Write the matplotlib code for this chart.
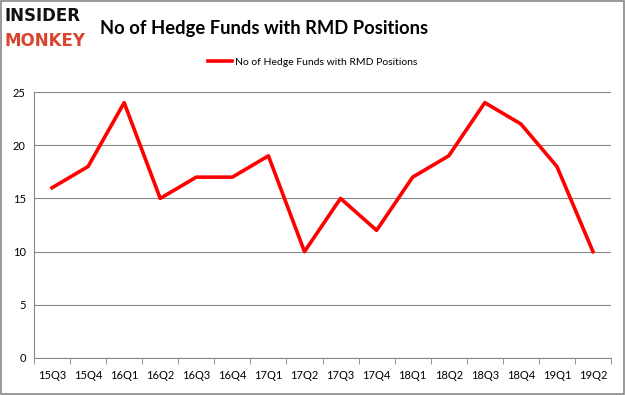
import matplotlib
matplotlib.use('Agg')
import matplotlib.pyplot as plt
from matplotlib.patches import Rectangle

quarters = ['15Q3', '15Q4', '16Q1', '16Q2', '16Q3', '16Q4', '17Q1', '17Q2',
            '17Q3', '17Q4', '18Q1', '18Q2', '18Q3', '18Q4', '19Q1', '19Q2']
funds = [16, 18, 24, 15, 17, 17, 19, 10, 15, 12, 17, 19, 24, 22, 18, 10]
series_name = 'No of Hedge Funds with RMD Positions'
yticks = [0, 5, 10, 15, 20, 25]

plt.rcParams['font.family'] = ['Lato', 'DejaVu Sans']

fig = plt.figure(figsize=(6.25, 3.95), dpi=100)
fig.patches.append(Rectangle((0.0015, 0.002), 0.997, 0.995, transform=fig.transFigure,
                             fill=False, edgecolor='#888888', linewidth=1.2))

ax = fig.add_axes([0.0544, 0.0937, 0.9232, 0.6733])
x = list(range(len(quarters)))
line, = ax.plot(x, funds, color='#ff0000', linewidth=2.6, label=series_name)

ax.set_xlim(-0.5, len(quarters) - 0.5)
ax.set_ylim(0, 25)
ax.set_yticks(yticks)
ax.set_xticks(x)
ax.set_xticklabels(quarters)
ax.set_xticks([i - 0.5 for i in range(len(quarters) + 1)], minor=True)
ax.tick_params(axis='x', which='major', length=0, pad=9, labelsize=8)
ax.tick_params(axis='x', which='minor', length=4, color='#888888')
ax.tick_params(axis='y', length=0, pad=6, labelsize=8)
ax.grid(axis='y', color='#888888', linewidth=0.8)
ax.set_axisbelow(True)
for side in ['top', 'right']:
    ax.spines[side].set_visible(False)
for side in ['left', 'bottom']:
    ax.spines[side].set_color('#888888')

fig.text(0.16, 0.927, 'No of Hedge Funds with RMD Positions', fontsize=13.2,
         fontweight='bold', va='center', ha='left')
fig.text(0.008, 0.960, 'INSIDER', fontsize=12, fontweight='bold', va='center',
         ha='left', color='#111111', family='DejaVu Sans')
fig.text(0.008, 0.897, 'MONKEY', fontsize=12, fontweight='bold', va='center',
         ha='left', color='#d9442e', family='DejaVu Sans')

fig.legend(handles=[line], loc='center', bbox_to_anchor=(0.5, 0.843), frameon=False,
           fontsize=7.5, handlelength=2.3, handletextpad=0.3)

fig.savefig('out.png', dpi=100)
